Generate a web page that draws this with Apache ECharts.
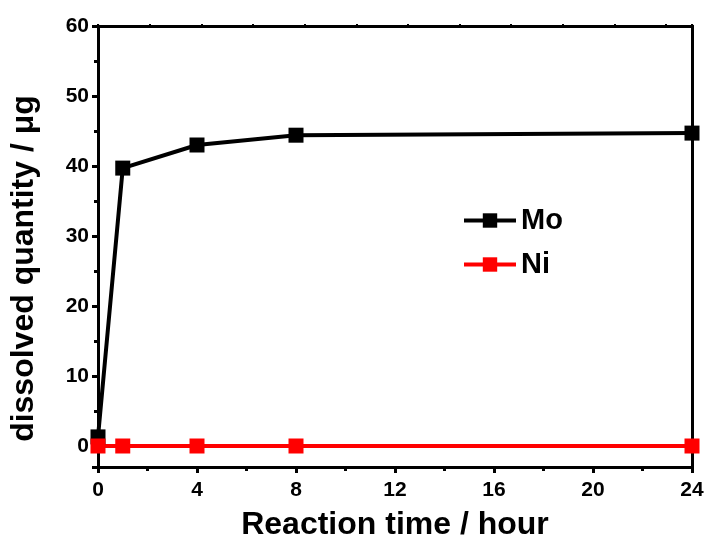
<!DOCTYPE html>
<html>
<head>
<meta charset="utf-8">
<script src="https://cdn.jsdelivr.net/npm/echarts@6/dist/echarts.min.js"></script>
<style>html,body{margin:0;padding:0;background:#fff}#c{width:708px;height:540px}</style>
</head>
<body>
<div id="c"></div>
<script>
var hours = [0, 1, 4, 8, 24];
var moValues = [1.3, 39.7, 43.0, 44.4, 44.7];
var niValues = [0, 0, 0, 0, 0];
var xTicks = [0, 4, 8, 12, 16, 20, 24];
var yTicks = [0, 10, 20, 30, 40, 50, 60];

function pairs(xs, ys) { return xs.map(function (x, i) { return [x, ys[i]]; }); }

var font = 'Liberation Sans, Arial, sans-serif';
var chart = echarts.init(document.getElementById('c'));
chart.setOption({
  animation: false,
  backgroundColor: '#fff',
  grid: { left: 98, right: 16, top: 26, bottom: 73, outerBoundsMode: 'none', containLabel: false },
  legend: {
    orient: 'vertical', left: 457, top: 201, itemWidth: 52, itemHeight: 18, itemGap: 15,
    lineStyle: { width: 4 },
    textStyle: { fontFamily: font, fontWeight: 'bold', fontSize: 29, color: '#000' },
    data: ['Mo', 'Ni']
  },
  xAxis: [{
    type: 'value', min: 0, max: 24, interval: 4,
    name: 'Reaction time / hour', nameLocation: 'middle', nameGap: 42,
    nameTextStyle: { fontFamily: font, fontWeight: 'bold', fontSize: 32, color: '#000' },
    axisLine: { onZero: false, lineStyle: { color: '#000', width: 3 } },
    axisTick: { length: 6, lineStyle: { width: 3, color: '#000' } },
    minorTick: { show: true, splitNumber: 2, length: 4, lineStyle: { width: 3, color: '#000' } },
    axisLabel: { fontFamily: font, fontWeight: 'bold', fontSize: 21, color: '#000', margin: 13,
      formatter: function (v) { return xTicks.indexOf(v) >= 0 ? String(v) : ''; } },
    splitLine: { show: false }
  }, {
    type: 'value', position: 'top', min: 0, max: 11.5, interval: 1,
    axisLine: { onZero: false, lineStyle: { color: '#000', width: 3 } },
    axisTick: { length: 2, lineStyle: { width: 2, color: '#000' } },
    axisLabel: { show: false }, splitLine: { show: false }
  }],
  yAxis: [{
    type: 'value', min: -3, max: 60, splitNumber: 6,
    name: 'dissolved quantity / μg', nameLocation: 'middle', nameGap: 58,
    nameTextStyle: { fontFamily: font, fontWeight: 'bold', fontSize: 32, color: '#000', padding: [0, 44, 0, 0] },
    axisLine: { onZero: false, lineStyle: { color: '#000', width: 3 } },
    axisTick: { length: 6, lineStyle: { width: 3, color: '#000' } },
    minorTick: { show: true, splitNumber: 2, length: 4, lineStyle: { width: 3, color: '#000' } },
    axisLabel: { fontFamily: font, fontWeight: 'bold', fontSize: 21, color: '#000', margin: 9,
      formatter: function (v) { return yTicks.indexOf(v) >= 0 ? String(v) : ''; } },
    splitLine: { show: false }
  }, {
    type: 'value', position: 'right', min: 0, max: 10, interval: 1,
    axisLine: { onZero: false, lineStyle: { color: '#000', width: 3 } },
    axisTick: { length: 2, lineStyle: { width: 2, color: '#000' } },
    axisLabel: { show: false }, splitLine: { show: false }
  }],
  series: [{
    name: 'Mo', type: 'line', data: pairs(hours, moValues),
    symbol: 'rect', symbolSize: 15, color: '#000',
    lineStyle: { width: 4, color: '#000' }, itemStyle: { color: '#000' }
  }, {
    name: 'Ni', type: 'line', data: pairs(hours, niValues),
    symbol: 'rect', symbolSize: 15, color: '#ff0000',
    lineStyle: { width: 4, color: '#ff0000' }, itemStyle: { color: '#ff0000' }
  }]
});
</script>
</body>
</html>
